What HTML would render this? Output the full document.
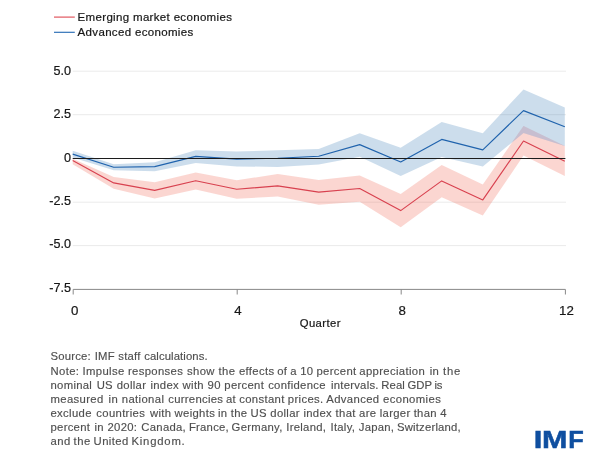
<!DOCTYPE html>
<html><head><meta charset="utf-8"><title>Chart</title>
<style>
html,body{margin:0;padding:0;background:#fff;}
body{width:602px;height:469px;position:relative;overflow:hidden;font-family:"Liberation Sans",sans-serif;color:#222;}
.t{position:absolute;white-space:nowrap;line-height:1;color:#161616;-webkit-text-stroke:0.2px #161616;}
.yl{font-size:12.6px;text-align:right;width:40px;left:31px;}
.xl{font-size:13.3px;text-align:center;width:40px;}
.lg{font-size:11.5px;left:77.6px;letter-spacing:0.33px;}
.note{position:absolute;left:50.5px;top:349.45px;font-size:11.3px;line-height:14.13px;color:#4f4f4f;-webkit-text-stroke:0.15px #4f4f4f;white-space:nowrap;}
.note .ln{display:block;white-space:pre;position:relative;height:14.13px;}
.note .lw span{position:absolute;top:0;left:0;}
</style></head><body>
<svg width="602" height="469" viewBox="0 0 602 469" style="position:absolute;left:0;top:0">
<line x1="72.7" x2="566" y1="71.2" y2="71.2" stroke="#ebebeb" stroke-width="1"/>
<line x1="72.7" x2="566" y1="114.7" y2="114.7" stroke="#ebebeb" stroke-width="1"/>
<line x1="72.7" x2="566" y1="202.2" y2="202.2" stroke="#ebebeb" stroke-width="1"/>
<line x1="72.7" x2="566" y1="245.6" y2="245.6" stroke="#ebebeb" stroke-width="1"/>
<path d="M72.7,150.8 L113.7,164.3 L154.7,162.2 L195.7,150.2 L236.7,151.6 L277.7,150.2 L318.7,148.9 L359.7,133.2 L400.7,147.8 L441.7,122.0 L482.8,133.2 L523.5,89.4 L564.8,107.4 L564.8,146.0 L523.5,132.9 L482.8,166.5 L441.7,156.9 L400.7,176.0 L359.7,156.8 L318.7,164.6 L277.7,166.9 L236.7,166.4 L195.7,163.0 L154.7,171.3 L113.7,170.2 L72.7,157.5Z" fill="#3379b4" fill-opacity="0.25"/>
<path d="M72.7,158.8 L113.7,177.1 L154.7,182.2 L195.7,172.4 L236.7,180.2 L277.7,174.1 L318.7,180.0 L359.7,175.5 L400.7,194.1 L441.7,165.0 L482.8,184.4 L523.5,126.1 L564.8,146.0 L564.8,176.0 L523.5,155.6 L482.8,215.6 L441.7,197.2 L400.7,227.2 L359.7,201.8 L318.7,204.8 L277.7,196.6 L236.7,198.7 L195.7,189.5 L154.7,198.5 L113.7,188.7 L72.7,164.3Z" fill="#ef5b47" fill-opacity="0.25"/>
<clipPath id="bb"><path d="M72.7,150.8 L113.7,164.3 L154.7,162.2 L195.7,150.2 L236.7,151.6 L277.7,150.2 L318.7,148.9 L359.7,133.2 L400.7,147.8 L441.7,122.0 L482.8,133.2 L523.5,89.4 L564.8,107.4 L564.8,146.0 L523.5,132.9 L482.8,166.5 L441.7,156.9 L400.7,176.0 L359.7,156.8 L318.7,164.6 L277.7,166.9 L236.7,166.4 L195.7,163.0 L154.7,171.3 L113.7,170.2 L72.7,157.5Z"/></clipPath>
<path d="M72.7,158.8 L113.7,177.1 L154.7,182.2 L195.7,172.4 L236.7,180.2 L277.7,174.1 L318.7,180.0 L359.7,175.5 L400.7,194.1 L441.7,165.0 L482.8,184.4 L523.5,126.1 L564.8,146.0 L564.8,176.0 L523.5,155.6 L482.8,215.6 L441.7,197.2 L400.7,227.2 L359.7,201.8 L318.7,204.8 L277.7,196.6 L236.7,198.7 L195.7,189.5 L154.7,198.5 L113.7,188.7 L72.7,164.3Z" fill="#aac3ee" fill-opacity="0.3" clip-path="url(#bb)"/>
<path d="M72.7,154.1 L113.7,167.2 L154.7,166.6 L195.7,156.4 L236.7,159.1 L277.7,158.3 L318.7,156.2 L359.7,144.6 L400.7,162.0 L441.7,139.4 L482.8,149.9 L523.5,110.6 L564.8,126.8" fill="none" stroke="#2063ad" stroke-width="1.15" stroke-linejoin="round"/>
<path d="M72.7,160.4 L113.7,182.9 L154.7,190.4 L195.7,180.7 L236.7,189.3 L277.7,185.9 L318.7,192.1 L359.7,188.5 L400.7,210.6 L441.7,180.9 L482.8,199.9 L523.5,141.0 L564.8,161.2" fill="none" stroke="#d8414f" stroke-width="1.15" stroke-linejoin="round"/>
<line x1="72.7" x2="565.4" y1="158.45" y2="158.45" stroke="#1c1c1c" stroke-width="1.05"/>
<path d="M73.2,294.5 V289.4 H565.4 V294.5 M237.2,289.4 V294.5 M401.2,289.4 V294.5" fill="none" stroke="#888" stroke-width="1"/>
<line x1="54" x2="74.8" y1="17.1" y2="17.1" stroke="#e0505a" stroke-width="1.15"/>
<line x1="54" x2="74.8" y1="32.3" y2="32.3" stroke="#2a6db5" stroke-width="1.15"/>
<g font-family="Liberation Sans, sans-serif" font-weight="bold" font-size="24.0" fill="#0f4fa0" stroke="#0f4fa0" stroke-width="0.5"><text transform="translate(533.72,447.8) scale(1.284,1)">I</text><text transform="translate(542.03,447.8) scale(1.268,1)">M</text><text transform="translate(568.30,447.8) scale(1.057,1)">F</text></g>
</svg>
<div class="t lg" style="top:11.7px">Emerging market economies</div>
<div class="t lg" style="top:26.5px">Advanced economies</div>
<div class="t yl" style="top:65.3px">5.0</div>
<div class="t yl" style="top:107.7px">2.5</div>
<div class="t yl" style="top:151.9px">0</div>
<div class="t yl" style="top:194.8px">-2.5</div>
<div class="t yl" style="top:237.7px">-5.0</div>
<div class="t yl" style="top:281.8px">-7.5</div>
<div class="t xl" style="left:54.8px;top:304px">0</div>
<div class="t xl" style="left:218px;top:304px">4</div>
<div class="t xl" style="left:382.1px;top:304px">8</div>
<div class="t xl" style="left:546.4px;top:304px">12</div>
<div class="t" style="left:299.7px;top:317.6px;font-size:11.3px;letter-spacing:0.42px">Quarter</div>
<div class="note"><div class="ln lw"><span style="left:0.00px;letter-spacing:0.200px">Source:</span> <span style="left:44.27px;letter-spacing:0.200px">IMF</span> <span style="left:67.87px;letter-spacing:0.200px">staff</span> <span style="left:93.71px;letter-spacing:0.099px">calculations.</span></div><div class="ln lw"><span style="left:0.00px;letter-spacing:0.350px">Note:</span> <span style="left:32.10px;letter-spacing:0.350px">Impulse</span> <span style="left:77.47px;letter-spacing:0.350px">responses</span> <span style="left:136.50px;letter-spacing:0.350px">show</span> <span style="left:168.05px;letter-spacing:0.350px">the</span> <span style="left:188.41px;letter-spacing:0.350px">effects</span> <span style="left:226.68px;letter-spacing:0.350px">of</span> <span style="left:239.87px;letter-spacing:0.350px">a</span> <span style="left:249.66px;letter-spacing:0.350px">10</span> <span style="left:265.96px;letter-spacing:0.350px">percent</span> <span style="left:308.81px;letter-spacing:0.350px">appreciation</span> <span style="left:379.25px;letter-spacing:0.350px">in</span> <span style="left:392.49px;letter-spacing:0.756px">the</span></div><div class="ln lw"><span style="left:0.00px;letter-spacing:0.300px">nominal</span> <span style="left:46.14px;letter-spacing:0.300px">US</span> <span style="left:66.29px;letter-spacing:0.300px">dollar</span> <span style="left:99.96px;letter-spacing:0.300px">index</span> <span style="left:132.11px;letter-spacing:0.300px">with</span> <span style="left:157.08px;letter-spacing:0.300px">90</span> <span style="left:173.80px;letter-spacing:0.300px">percent</span> <span style="left:217.66px;letter-spacing:0.300px">confidence</span> <span style="left:280.56px;letter-spacing:0.242px">intervals.</span> <span style="left:330.78px;letter-spacing:0.088px">Real</span> <span style="left:357.03px;letter-spacing:0.003px">GDP</span> <span style="left:383.94px;letter-spacing:-0.238px">is</span></div><div class="ln lw"><span style="left:0.00px;letter-spacing:0.360px">measured</span> <span style="left:58.02px;letter-spacing:0.360px">in</span> <span style="left:71.34px;letter-spacing:0.360px">national</span> <span style="left:117.70px;letter-spacing:0.302px">currencies</span> <span style="left:175.42px;letter-spacing:0.360px">at</span> <span style="left:188.68px;letter-spacing:0.360px">constant</span> <span style="left:237.31px;letter-spacing:0.360px">prices.</span> <span style="left:275.82px;letter-spacing:0.360px">Advanced</span> <span style="left:332.48px;letter-spacing:0.400px">economies</span></div><div class="ln lw"><span style="left:0.00px;letter-spacing:0.330px">exclude</span> <span style="left:45.82px;letter-spacing:0.330px">countries</span> <span style="left:99.44px;letter-spacing:0.330px">with</span> <span style="left:124.06px;letter-spacing:0.330px">weights</span> <span style="left:167.50px;letter-spacing:0.330px">in</span> <span style="left:180.21px;letter-spacing:0.330px">the</span> <span style="left:200.01px;letter-spacing:0.330px">US</span> <span style="left:219.80px;letter-spacing:0.330px">dollar</span> <span style="left:252.90px;letter-spacing:0.330px">index</span> <span style="left:285.10px;letter-spacing:0.330px">that</span> <span style="left:308.62px;letter-spacing:0.330px">are</span> <span style="left:329.20px;letter-spacing:0.330px">larger</span> <span style="left:363.15px;letter-spacing:0.330px">than</span> <span style="left:389.67px;letter-spacing:0.330px">4</span></div><div class="ln lw"><span style="left:0.00px;letter-spacing:0.280px">percent</span> <span style="left:43.94px;letter-spacing:0.280px">in</span> <span style="left:57.03px;letter-spacing:0.280px">2020:</span> <span style="left:90.86px;letter-spacing:0.280px">Canada,</span> <span style="left:138.38px;letter-spacing:0.257px">France,</span> <span style="left:181.11px;letter-spacing:0.280px">Germany,</span> <span style="left:235.81px;letter-spacing:0.280px">Ireland,</span> <span style="left:279.98px;letter-spacing:0.280px">Italy,</span> <span style="left:308.32px;letter-spacing:0.250px">Japan,</span> <span style="left:346.45px;letter-spacing:0.203px">Switzerland,</span></div><div class="ln lw"><span style="left:0.00px;letter-spacing:0.450px">and</span> <span style="left:23.09px;letter-spacing:0.450px">the</span> <span style="left:43.07px;letter-spacing:0.420px">United</span> <span style="left:80.89px;letter-spacing:0.809px">Kingdom.</span></div></div>
</body></html>
